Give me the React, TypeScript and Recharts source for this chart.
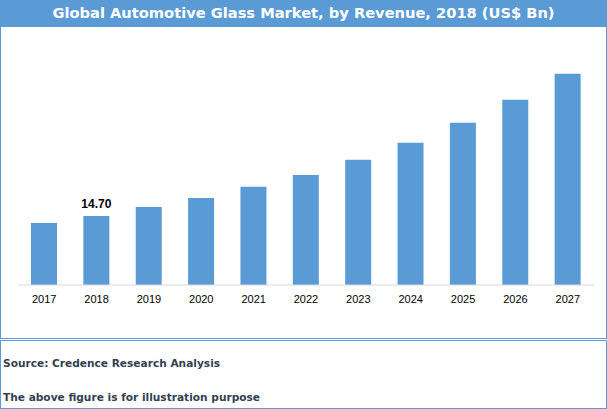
import { BarChart, Bar, XAxis, YAxis, LabelList } from 'recharts';

const years = ['2017', '2018', '2019', '2020', '2021', '2022', '2023', '2024', '2025', '2026', '2027'];
const revenue = [13.21, 14.7, 16.62, 18.53, 20.88, 23.43, 26.63, 30.25, 34.51, 39.41, 44.95];
const valueLabels = ['', '14.70', '', '', '', '', '', '', '', '', ''];

const BLUE = '#5B9BD5';
const WIDE_FONT = '"DejaVu Sans", Verdana, sans-serif';

const data = years.map((year, i) => ({
  year,
  revenue: revenue[i],
  label: valueLabels[i],
}));

export default function App() {
  return (
    <div style={{ position: 'relative', width: 607, height: 409, background: '#fff', overflow: 'hidden' }}>
      <style>{'body{margin:0}'}</style>
      <div
        style={{
          position: 'absolute', left: 0, top: 0, width: 607, height: 27,
          background: BLUE, color: '#fff', fontFamily: WIDE_FONT,
          fontWeight: 'bold', fontSize: 14.65, lineHeight: '25px', textAlign: 'center', whiteSpace: 'nowrap',
        }}
      >
        Global Automotive Glass Market, by Revenue, 2018 (US$ Bn)
      </div>
      {/* upper panel frame */}
      <div
        style={{
          position: 'absolute', left: 0, top: 27, width: 607, height: 312, boxSizing: 'border-box',
          borderLeft: `1px solid ${BLUE}`, borderRight: `1px solid ${BLUE}`, borderBottom: `1px solid ${BLUE}`,
        }}
      />
      {/* lower panel frame */}
      <div
        style={{
          position: 'absolute', left: 0, top: 340, width: 607, height: 69, boxSizing: 'border-box',
          border: `1px solid ${BLUE}`,
        }}
      />
      <div style={{ position: 'absolute', left: 0, top: 0 }}>
        <BarChart
          width={607}
          height={315}
          data={data}
          margin={{ top: 50, right: 13, bottom: 0, left: 18 }}
        >
          <YAxis hide domain={[0, 50]} />
          <XAxis
            dataKey="year"
            height={30}
            tickLine={false}
            tickSize={0}
            tickMargin={10}
            axisLine={{ stroke: '#d9d9d9' }}
            tick={{ fill: '#000', fontSize: 11, fontFamily: '"Liberation Sans", Arial, sans-serif' }}
            interval={0}
          />
          <Bar dataKey="revenue" fill={BLUE} barSize={26} isAnimationActive={false}>
            <LabelList
              dataKey="label"
              position="top"
              offset={8}
              fill="#000"
              fontSize={12}
              fontWeight="bold"
              fontFamily='"Liberation Sans", Arial, sans-serif'
            />
          </Bar>
        </BarChart>
      </div>
      <div
        style={{
          position: 'absolute', left: 3, top: 357, color: '#333f50', whiteSpace: 'nowrap',
          fontFamily: WIDE_FONT, fontWeight: 'bold', fontSize: 10.6,
        }}
      >
        Source: Credence Research Analysis
      </div>
      <div
        style={{
          position: 'absolute', left: 3, top: 391, color: '#333f50', whiteSpace: 'nowrap',
          fontFamily: WIDE_FONT, fontWeight: 'bold', fontSize: 10.6,
        }}
      >
        The above figure is for illustration purpose
      </div>
    </div>
  );
}
